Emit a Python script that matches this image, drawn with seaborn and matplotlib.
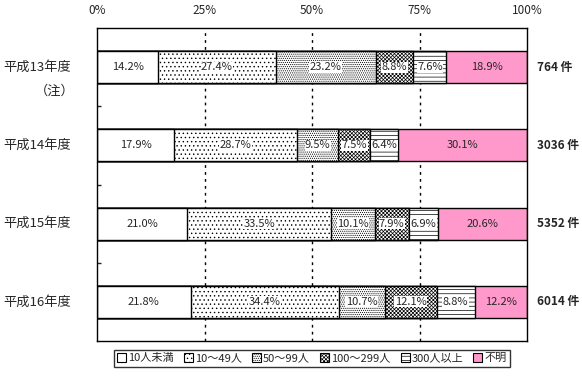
import numpy as np
import pandas as pd
import seaborn as sns
import matplotlib.pyplot as plt
from matplotlib.patches import Patch

sns.set_style("white")
plt.rcParams['font.family'] = ['Noto Sans CJK JP', 'DejaVu Sans']
plt.rcParams['hatch.linewidth'] = 0.5

# ---------------- data ----------------
years = ['平成13年度', '平成14年度', '平成15年度', '平成16年度']
counts = ['764 件', '3036 件', '5352 件', '6014 件']
groups = ['10人未満', '10～49人', '50～99人', '100～299人', '300人以上', '不明']
v_under10 = [14.2, 17.9, 21.0, 21.8]
v_10_49 = [27.4, 28.7, 33.5, 34.4]
v_50_99 = [23.2, 9.5, 10.1, 10.7]
v_100_299 = [8.8, 7.5, 7.9, 12.1]
v_300plus = [7.6, 6.4, 6.9, 8.8]
v_unknown = [18.9, 30.1, 20.6, 12.2]

values = [v_under10, v_10_49, v_50_99, v_100_299, v_300plus, v_unknown]
colors = ['white', 'white', 'white', 'white', 'white', '#FF99CC']
hatches = [None, '....', '........', 'xxxxxxxxx', '----', None]

df = pd.DataFrame({'year': years})
for g, v in zip(groups, values):
    df[g] = v
cum = df[groups].cumsum(axis=1)

fig = plt.figure(figsize=(5.82, 3.77), dpi=100)
ax = fig.add_axes([97 / 582, 1 - 341 / 377, 430 / 582, 313 / 377])

# stacked bars: draw cumulative totals from last group to first
for i in range(len(groups) - 1, -1, -1):
    n_before = len(ax.patches)
    sns.barplot(x=cum[groups[i]].values, y=df['year'], orient='h', ax=ax,
                color=colors[i], edgecolor='black', linewidth=1,
                width=0.41, saturation=1)
    for p in ax.patches[n_before:]:
        p.set_facecolor(colors[i])
        if hatches[i]:
            p.set_hatch(hatches[i])

# percent labels
for r in range(len(years)):
    left = 0
    for i, g in enumerate(groups):
        w = df[g][r]
        ax.text(left + w / 2, r, f'{w:.1f}%', ha='center', va='center',
                fontsize=8, zorder=5,
                bbox=dict(facecolor='white' if hatches[i] else 'none',
                          edgecolor='none', pad=0.3))
        left += w

for x in [25, 50, 75]:
    ax.axvline(x, color='black', linestyle=(0, (2, 3)), linewidth=1, zorder=0.5)

ax.set_xlim(0, 100)
ax.set_ylim(3.5, -0.5)
ax.set_xticks([0, 25, 50, 75, 100])
ax.set_xticklabels(['0%', '25%', '50%', '75%', '100%'], fontsize=8.5)
ax.xaxis.tick_top()
ax.tick_params(axis='x', length=0, pad=8)
ax.set_yticks([0.5, 1.5, 2.5])
ax.set_yticklabels([])
ax.tick_params(axis='y', direction='in', length=3, width=1, left=True)
ax.set_xlabel('')
ax.set_ylabel('')
for s in ax.spines.values():
    s.set_visible(True)
    s.set_color('black')
    s.set_linewidth(1)

tr = ax.get_yaxis_transform()
for r, y in enumerate(years):
    ax.text(-0.218, r, y, transform=tr, ha='left', va='center', fontsize=9.5)
    ax.text(1.023, r, counts[r], transform=tr, ha='left', va='center',
            fontsize=8.5, fontweight='bold')
ax.text(-0.145, 0.31, '（注）', transform=tr, ha='left', va='center', fontsize=9.5)

handles = [Patch(facecolor=c, edgecolor='black', hatch=h, linewidth=0.8)
           for c, h in zip(colors, hatches)]
leg = ax.legend(handles, groups, loc='center', bbox_to_anchor=(0.5, -0.055),
                ncol=6, fontsize=8, frameon=True, fancybox=False,
                handlelength=0.8, handleheight=0.8, handletextpad=0.2,
                columnspacing=0.9, borderpad=0.3)
leg.get_frame().set_edgecolor('black')
leg.get_frame().set_linewidth(1)

fig.savefig('out.png', dpi=100)
